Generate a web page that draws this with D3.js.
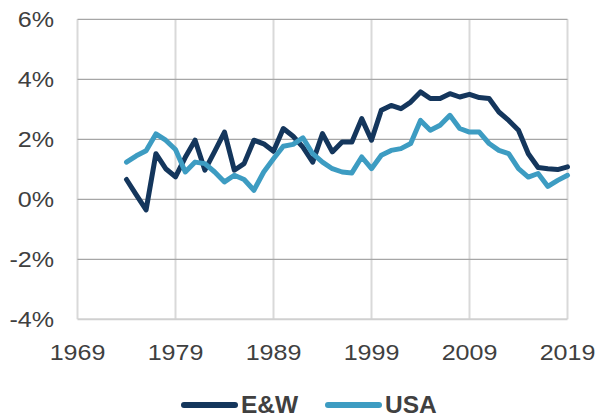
<!DOCTYPE html>
<html>
<head>
<meta charset="utf-8">
<script src="https://cdn.jsdelivr.net/npm/d3@7"></script>
<style>
  html, body { margin: 0; padding: 0; background: #fff; }
  svg { display: block; font-family: "Liberation Sans", Arial, sans-serif; }
</style>
</head>
<body>
<svg id="chart" width="598" height="418"></svg>
<script>
// --- data ---
const years = d3.range(1974, 2020);
const ewValues = [0.66, 0.15, -0.35, 1.52, 1.02, 0.75, 1.4, 1.97, 0.97, 1.6,
  2.24, 0.97, 1.19, 1.97, 1.85, 1.6, 2.36, 2.1, 1.74, 1.24,
  2.19, 1.58, 1.91, 1.91, 2.69, 1.97, 2.97, 3.13, 3.02, 3.24,
  3.58, 3.36, 3.36, 3.52, 3.41, 3.5, 3.39, 3.36, 2.91, 2.63,
  2.3, 1.52, 1.06, 1.02, 0.99, 1.08];
const usaValues = [1.24, 1.45, 1.62, 2.18, 1.97, 1.66, 0.91, 1.24, 1.19, 0.91,
  0.58, 0.8, 0.66, 0.3, 0.91, 1.35, 1.77, 1.83, 2.05, 1.52,
  1.24, 1.02, 0.91, 0.88, 1.41, 1.02, 1.47, 1.63, 1.69, 1.86,
  2.63, 2.3, 2.47, 2.8, 2.36, 2.24, 2.24, 1.86, 1.63, 1.52,
  1.02, 0.74, 0.86, 0.43, 0.63, 0.8];
const yTicks = [-4, -2, 0, 2, 4, 6];
const xTicks = [1969, 1979, 1989, 1999, 2009, 2019];
const seriesNames = ["E&W", "USA"];
const seriesColors = ["#14365c", "#3d9cc2"];

const svg = d3.select("#chart");
const x = d3.scaleLinear().domain([1969, 2019]).range([77.5, 567.5]);
const y = d3.scaleLinear().domain([-4, 6]).range([319.3, 19.3]);

// gridlines
svg.append("g").selectAll("line").data(xTicks).join("line")
  .attr("x1", d => x(d)).attr("x2", d => x(d))
  .attr("y1", y(6)).attr("y2", y(-4))
  .attr("stroke", "#d9d9d9").attr("stroke-width", 2);
svg.append("g").selectAll("line").data(yTicks).join("line")
  .attr("x1", x(1969)).attr("x2", x(2019))
  .attr("y1", d => y(d)).attr("y2", d => y(d))
  .attr("stroke", d => d === -4 ? "#d0d0d0" : "#a6a6a6")
  .attr("stroke-width", d => d === -4 ? 2 : 1.3);

// axis labels (slightly wide glyphs in the original)
svg.append("g").selectAll("text").data(yTicks).join("text")
  .attr("transform", d => `translate(54,${y(d) + 8}) scale(1.14,1)`)
  .attr("text-anchor", "end")
  .attr("font-size", 22).attr("fill", "#404040")
  .text(d => d + "%");
svg.append("g").selectAll("text").data(xTicks).join("text")
  .attr("transform", d => `translate(${x(d)},359.5) scale(1.14,1)`)
  .attr("text-anchor", "middle")
  .attr("font-size", 22).attr("fill", "#404040")
  .text(d => d);

// series lines
const line = d3.line().x(d => x(d[0])).y(d => y(d[1]));
[ewValues, usaValues].forEach((vals, i) => {
  svg.append("path")
    .datum(years.map((yr, j) => [yr, vals[j]]))
    .attr("d", line)
    .attr("fill", "none")
    .attr("stroke", seriesColors[i])
    .attr("stroke-width", 5)
    .attr("stroke-linejoin", "round")
    .attr("stroke-linecap", "round");
});

// legend
const legendX = [184, 328];
seriesNames.forEach((name, i) => {
  const g = svg.append("g").attr("transform", `translate(${legendX[i]},405)`);
  g.append("line").attr("x1", 0).attr("x2", 51)
    .attr("stroke", seriesColors[i]).attr("stroke-width", 6)
    .attr("stroke-linecap", "round");
  g.append("text").attr("x", 57).attr("y", 8)
    .attr("font-size", 24.5).attr("font-weight", "bold").attr("fill", "#404040")
    .text(name);
});
</script>
</body>
</html>
